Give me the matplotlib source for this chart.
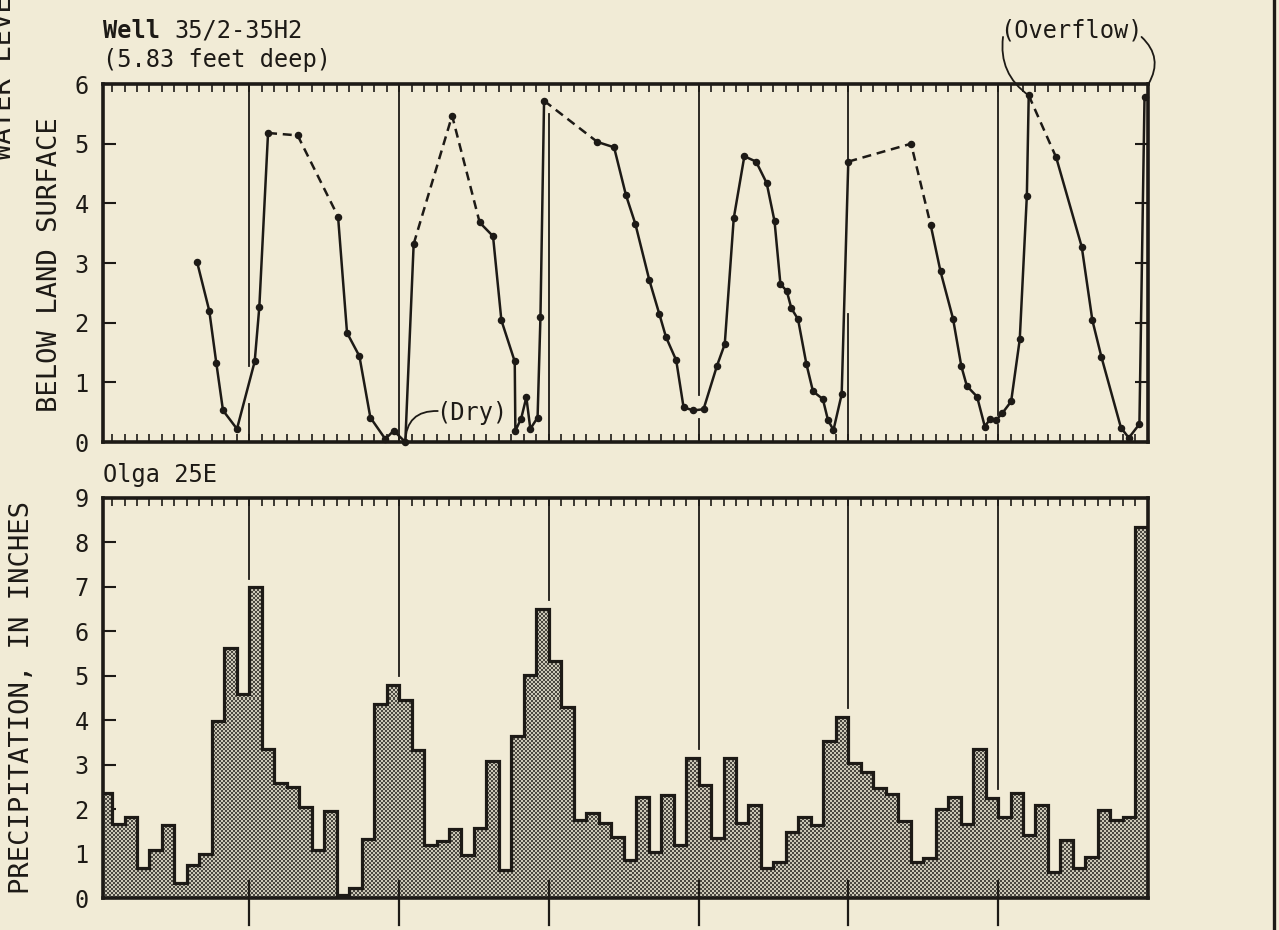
import numpy as np
import matplotlib.pyplot as plt
from matplotlib.colors import ListedColormap
from matplotlib.lines import Line2D

# ---- data ----
# Well 35/2-35H2: water level, month index counted from start of record
well_month = [7.81, 8.79, 9.35, 9.89, 11.01, 12.43, 12.80, 13.50, 15.87, 19.11,
              19.83, 20.82, 21.70, 22.90, 23.57, 24.50, 25.17, 28.25, 30.46, 31.53,
              32.20, 33.27, 33.32, 33.78, 34.20, 34.52, 35.10, 35.33, 35.62, 39.89,
              41.23, 42.18, 42.93, 44.06, 44.85, 45.39, 46.21, 46.80, 47.59, 48.40,
              49.48, 50.10, 50.82, 51.67, 52.61, 53.46, 54.09, 54.56, 55.07, 55.44,
              55.97, 56.64, 57.17, 57.96, 58.37, 58.81, 59.47, 60.00, 65.03, 66.60,
              67.39, 68.39, 69.06, 69.50, 70.32, 70.94, 71.38, 71.85, 72.33, 73.05,
              73.74, 74.31, 74.46, 76.66, 78.71, 79.56, 80.28, 81.85, 82.48, 83.33,
              83.74]
well_level = [3.02, 2.20, 1.33, 0.53, 0.22, 1.35, 2.26, 5.18, 5.14, 3.78,
              1.83, 1.44, 0.41, 0.05, 0.19, 0.00, 3.32, 5.47, 3.68, 3.45,
              2.04, 1.35, 0.19, 0.39, 0.75, 0.22, 0.41, 2.10, 5.72, 5.03,
              4.94, 4.14, 3.66, 2.71, 2.15, 1.76, 1.37, 0.58, 0.53, 0.55,
              1.28, 1.64, 3.75, 4.79, 4.70, 4.34, 3.70, 2.65, 2.53, 2.24,
              2.06, 1.31, 0.85, 0.72, 0.37, 0.20, 0.80, 4.70, 5.00, 3.64,
              2.86, 2.07, 1.27, 0.94, 0.76, 0.26, 0.39, 0.37, 0.48, 0.68,
              1.72, 4.13, 5.81, 4.77, 3.27, 2.04, 1.43, 0.24, 0.07, 0.30,
              5.79]
# segments (by index of first point) that are estimated -> dashed
dashed_from = [7, 8, 16, 17, 28, 57, 58, 72]

# Olga 25E monthly precipitation, inches (7 years x 12 months)
precip = [2.35, 1.66, 1.81, 0.68, 1.09, 1.64, 0.33, 0.74, 0.98, 3.98, 5.61, 4.58,
          6.98, 3.34, 2.58, 2.49, 2.05, 1.09, 1.96, 0.07, 0.22, 1.32, 4.37, 4.79,
          4.46, 3.33, 1.19, 1.28, 1.55, 0.97, 1.57, 3.08, 0.63, 3.65, 5.01, 6.49,
          5.33, 4.30, 1.75, 1.90, 1.68, 1.38, 0.85, 2.28, 1.04, 2.31, 1.19, 3.14,
          2.54, 1.34, 3.14, 1.68, 2.09, 0.67, 0.82, 1.49, 1.81, 1.63, 3.53, 4.07,
          3.03, 2.84, 2.48, 2.33, 1.73, 0.82, 0.89, 2.01, 2.28, 1.66, 3.36, 2.24,
          1.83, 2.35, 1.42, 2.09, 0.59, 1.30, 0.67, 0.93, 1.98, 1.75, 1.83, 8.34]
year_months = [12, 24, 36, 48, 60, 72]
# pieces of the year lines drawn in the hydrograph panel (gaps where the curve passes)
year_pieces = {12: [(0, 0.64), (1.28, 6)], 24: [(0, 6)], 36: [(0, 5.5)],
               48: [(0, 0.39), (0.78, 6)], 60: [(0, 2.14), (4.7, 6)],
               72: [(0, 0.28), (0.45, 6)]}

BG = '#f1ebd6'
INK = '#1d1a16'
plt.rcParams['font.family'] = ['DejaVu Sans Mono']
plt.rcParams['text.color'] = INK

fig = plt.figure(figsize=(12.79, 9.30), dpi=100, facecolor=BG)
ax1 = fig.add_axes([0.0803, 0.5247, 0.8171, 0.3849])
ax2 = fig.add_axes([0.0803, 0.0344, 0.8171, 0.4306])

for ax in (ax1, ax2):
    ax.set_facecolor(BG)
    for s in ax.spines.values():
        s.set_linewidth(2.6)
        s.set_color(INK)
    ax.set_xticks([])
    ax.set_xticks(np.arange(1, 84), minor=True)
    ax.tick_params(which='minor', axis='x', direction='in', top=True, bottom=True,
                   length=6, width=1.2, color=INK)
    ax.tick_params(which='major', axis='y', direction='in', left=True, right=True,
                   length=9.5, width=1.5, color=INK, labelsize=17, pad=10,
                   labelcolor=INK)

# ---- hydrograph ----
for t, pieces in year_pieces.items():
    for lo, hi in pieces:
        ax1.plot([t, t], [lo, hi], color=INK, lw=1.3, zorder=1)

styles = ['--' if i in dashed_from else '-' for i in range(len(well_month) - 1)]
start = 0
for i in range(1, len(styles) + 1):
    if i == len(styles) or styles[i] != styles[start]:
        kw = dict(dashes=(3.6, 2.3)) if styles[start] == '--' else {}
        ax1.plot(well_month[start:i + 1], well_level[start:i + 1], color=INK,
                 lw=1.8, solid_capstyle='round', zorder=3, **kw)
        start = i
ax1.plot(well_month, well_level, ls='none', marker='o', ms=4.4, color=INK,
         zorder=4, clip_on=False)

ax1.set_xlim(0.25, 84)
ax1.set_ylim(0, 6)
ax1.set_yticks(range(0, 7))

ax1.text(29.83, 0.49, '(Dry)', fontsize=17, ha='center', va='center')
ax1.annotate('', xy=(24.5, 0.0), xytext=(27.1, 0.52),
             arrowprops=dict(arrowstyle='-', color=INK, lw=1.3, shrinkA=0, shrinkB=0,
                             connectionstyle='arc3,rad=0.5'))
ax1.text(77.9, 6.89, '(Overflow)', fontsize=17, ha='center', va='center')
ax1.annotate('', xy=(74.46, 5.81), xytext=(72.4, 6.79), annotation_clip=False,
             arrowprops=dict(arrowstyle='-', color=INK, lw=1.3, shrinkA=0, shrinkB=0,
                             connectionstyle='arc3,rad=0.3'))
ax1.annotate('', xy=(84.05, 6.0), xytext=(83.5, 6.79), annotation_clip=False,
             arrowprops=dict(arrowstyle='-', color=INK, lw=1.3, shrinkA=0, shrinkB=0,
                             connectionstyle='arc3,rad=-0.4'))

# ---- precipitation ----
edges = np.arange(0, len(precip) + 1)
for t in year_months:
    top = max(precip[t - 1], precip[t]) + 0.2
    ax2.plot([t, t], [top, 9], color=INK, lw=1.3, zorder=1)
    ax2.plot([t, t], [-0.6, 0.38], color=INK, lw=1.6, zorder=4, clip_on=False)

shape = ax2.stairs(precip, edges, fill=True, facecolor='none', linewidth=0, zorder=2)
yy, xx = np.mgrid[0:400, 0:1045]
dots = ((yy // 2 + xx // 2) % 2).astype(float)
tex = ax2.imshow(dots, extent=(0.25, 84, 0, 9), aspect='auto', interpolation='nearest',
                 cmap=ListedColormap(['#cbc7b6', '#4a4740']), zorder=2)
tex.set_clip_path(shape)
ax2.stairs(precip, edges, color=INK, linewidth=2.3, zorder=3)

ax2.set_xlim(0.25, 84)
ax2.set_ylim(0, 9)
ax2.set_yticks(range(0, 10))

# ---- text ----
W = 1279.0
H = 930.0
fig.text(103 / W, 1 - 37.5 / H, 'Well', fontsize=17, fontweight='bold', va='baseline')
fig.text(174 / W, 1 - 37.5 / H, '35/2-35H2', fontsize=17, va='baseline')
fig.text(103 / W, 1 - 66.7 / H, '(5.83 feet deep)', fontsize=17, va='baseline')
fig.text(103 / W, 1 - 482.3 / H, 'Olga 25E', fontsize=17, va='baseline')

fig.text(22 / W, 1 - 698 / H, 'PRECIPITATION, IN INCHES', fontsize=19.5,
         rotation=90, ha='center', va='center')
fig.text(50 / W, 1 - 265 / H, 'BELOW LAND SURFACE', fontsize=19.5,
         rotation=90, ha='center', va='center')
# first line of the well label runs off the left edge of the sheet
fig.text(4 / W, 1 - 160 / H, 'WATER LEVEL, IN FEET', fontsize=19.5,
         rotation=90, ha='center', va='bottom')

fig.add_artist(Line2D([1274 / W, 1274 / W], [0, 1], transform=fig.transFigure,
                      color=INK, lw=2.4))

fig.savefig('out.png', dpi=100, facecolor=BG)
